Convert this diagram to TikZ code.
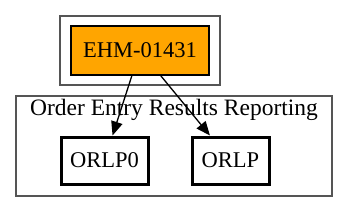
\documentclass[tikz,border=0pt]{standalone}
\usepackage{fontspec}
\setmainfont{Liberation Serif}
\usepackage{tikz}
\usetikzlibrary{arrows.meta,positioning}
\definecolor{DepOrange}{HTML}{FFA500}
\definecolor{DepFrame}{HTML}{555555}
\definecolor{DepInk}{HTML}{000000}
\tikzset{
  deplabel/.style={font=\fontsize{22.5}{26}\selectfont, text=DepInk},
  deptitle/.style={font=\fontsize{23.5}{28}\selectfont, text=DepInk},
  depcluster/.style={draw=DepFrame, line width=1.4pt, fill=white, inner sep=0pt},
  depbox/.style={deplabel, draw=DepInk, line width=1.3pt, inner sep=0pt},
  projbox/.style={depbox, fill=DepOrange},
  modbox/.style={depbox, fill=white, line width=3pt},
  deparrow/.style={-{Triangle[length=14pt,width=11.5pt]}, line width=1.3pt, draw=DepInk}
}
\begin{document}
\begin{tikzpicture}[x=1pt, y=-1pt]
\useasboundingbox (0,0) rectangle (348,212);
\node[depcluster, minimum width=160, minimum height=69] (projcluster) at (140,50.5) {};
\node[depcluster, minimum width=316, minimum height=100] (modcluster) at (174,146) {};
\node[deptitle] (modtitle) at (174,110) {Order Entry Results Reporting};
\node[projbox, minimum width=138, minimum height=49] (ehm) at (140,50.5) {EHM-01431};
\node[modbox, minimum width=87, minimum height=47] (orlp0) at (104.5,160.5) {ORLP0};
\node[modbox, minimum width=77, minimum height=47] (orlp) at (230.5,160.5) {ORLP};
\draw[deparrow] (ehm) -- (orlp0);
\draw[deparrow] (ehm) -- (orlp);
\end{tikzpicture}
\end{document}
